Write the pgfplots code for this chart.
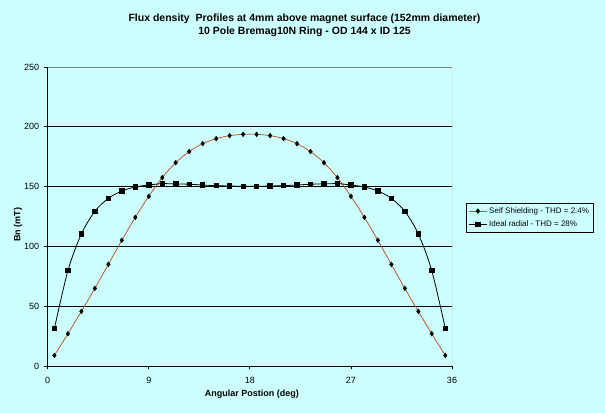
\documentclass[border=0pt]{standalone}
\usepackage{fontspec}
\setmainfont{Liberation Sans}
\usepackage{pgfplots}
\pgfplotsset{compat=1.18}
\definecolor{bgcyan}{RGB}{204,255,255}
\definecolor{brownline}{RGB}{184,88,40}
\definecolor{bordergray}{RGB}{128,128,128}

% Bn profiles, x = angular position (deg)
\pgfplotstableread{
x     y
0.6   8.9
1.8   27.0
3.0   45.7
4.2   64.9
5.4   85.0
6.6   105.1
7.8   124.3
9.0   141.9
10.2  157.5
11.4  170.0
12.6  179.3
13.8  185.9
15.0  190.1
16.2  192.6
17.4  193.7
18.6  193.7
19.8  192.6
21.0  190.1
22.2  185.9
23.4  179.3
24.6  170.0
25.8  157.5
27.0  141.9
28.2  124.3
29.4  105.1
30.6  85.0
31.8  64.9
33.0  45.7
34.2  27.0
35.4  8.9
}\selfshield

\pgfplotstableread{
x     y
0.6   31.5
1.8   79.7
3.0   110.4
4.2   129.3
5.4   140.2
6.6   146.3
7.8   149.7
9.0   151.3
10.2  152.5
11.4  152.2
12.6  152.0
13.8  151.3
15.0  150.8
16.2  150.5
17.4  150.2
18.6  150.2
19.8  150.5
21.0  150.8
22.2  151.3
23.4  152.0
24.6  152.2
25.8  152.5
27.0  151.3
28.2  149.7
29.4  146.3
30.6  140.2
31.8  129.3
33.0  110.4
34.2  79.7
35.4  31.5
}\idealradial

\begin{document}
\begin{tikzpicture}
\useasboundingbox (0,0) rectangle (605bp,413bp);
\fill[bgcyan] (0,0) rectangle (605bp,413bp);
\begin{axis}[
    at={(47.7bp,47bp)}, anchor=south west,
    scale only axis,
    width=404.3bp, height=299bp,
    xmin=0, xmax=36, ymin=0, ymax=250,
    xtick={0,9,18,27,36},
    ytick={0,50,...,250},
    axis lines*=left,
    axis line style={black, line width=0.8bp},
    ymajorgrids,
    grid style={black, line width=0.8bp},
    tick align=outside,
    major tick length=3.5bp,
    tick style={black, line width=0.8bp},
    /pgf/number format/assume math mode=true,
    ticklabel style={font=\fontsize{9bp}{10bp}\selectfont},
    xticklabel style={yshift=-4bp},
    yticklabel style={xshift=-1.5bp},
    xlabel={Angular Postion (deg)},
    ylabel={Bn (mT)},
    label style={font=\bfseries\fontsize{9bp}{10bp}\selectfont},
    xlabel style={at={(axis description cs:0.505,-0.0936)}, anchor=center},
    ylabel style={at={(axis description cs:-0.0735,0.472)}, anchor=center},
    legend style={
        at={(axis description cs:1.0347,0.545)}, anchor=north west,
        draw=black, fill=bgcyan, line width=0.8bp,
        font=\fontsize{8bp}{9bp}\selectfont,
        inner sep=2bp, row sep=2bp,
        cells={anchor=west}},
    legend image code/.code={
        \draw[mark repeat=2, mark phase=2, #1]
            plot coordinates {(0bp,0bp) (9bp,0bp) (18bp,0bp)};},
]
\addplot[smooth, brownline, line width=0.8bp,
    mark=diamond*, mark size=2.4bp,
    mark options={black, fill=black, line width=0.4bp}]
    table[x=x, y=y] {\selfshield};
\addlegendentry{Self Shielding - THD = 2.4\%}

\addplot[smooth, black, line width=0.8bp,
    mark=square*, mark size=2.2bp,
    mark options={black, fill=black}]
    table[x=x, y=y] {\idealradial};
\addlegendentry{Ideal radial - THD = 28\%}

\draw[bordergray, line width=0.8bp]
    (rel axis cs:0,1) -- (rel axis cs:1,1) -- (rel axis cs:1,0);
\end{axis}
\node[font=\bfseries\fontsize{10.5bp}{13bp}\selectfont, align=center]
    at (304.5bp,387.5bp)
    {Flux density\ \ Profiles at 4mm above magnet surface (152mm diameter)\\
     10 Pole Bremag10N Ring - OD 144 x ID 125};
\end{tikzpicture}
\end{document}
